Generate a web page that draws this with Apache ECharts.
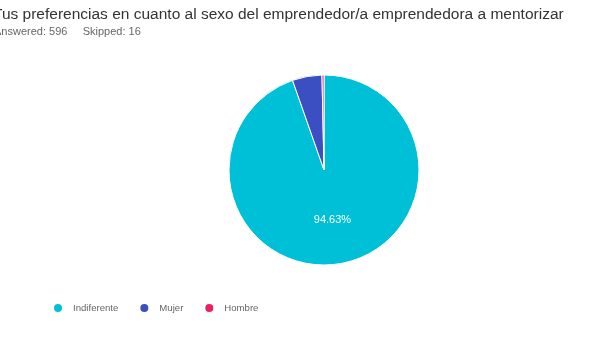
<!DOCTYPE html>
<html><head><meta charset="utf-8">
<script src="https://cdn.jsdelivr.net/npm/echarts@6/dist/echarts.min.js"></script>
<style>html,body{margin:0;padding:0;background:#fff}#c{width:590px;height:349px}</style>
</head><body><div id="c"></div>
<script>
const categories = ["Indiferente", "Mujer", "Hombre"];
const values = [94.63, 5.03, 0.34];
const colors = ["#00c0d8", "#3b4fc3", "#ed1f5e"];
const chart = echarts.init(document.getElementById('c'));
chart.setOption({
  animation: false,
  title: [{
    text: "Tus preferencias en cuanto al sexo del emprendedor/a emprendedora a mentorizar",
    left: -7, top: 7, padding: 0,
    textStyle: {fontFamily: "Liberation Sans, Arial", fontSize: 15.5, fontWeight: "normal", color: "#333"}
  }, {
    text: "Answered: 596     Skipped: 16",
    left: -6, top: 26, padding: 0,
    textStyle: {fontFamily: "Liberation Sans, Arial", fontSize: 11, fontWeight: "normal", color: "#666"}
  }],
  legend: {
    left: 47, top: 297, icon: "circle", itemWidth: 10, itemHeight: 10, itemGap: 20,
    data: categories,
    textStyle: {fontFamily: "Liberation Sans, Arial", fontSize: 9.6, color: "#666", padding: [0,0,0,5]}
  },
  series: [{
    type: "pie", center: [324, 170], radius: 95, startAngle: 90, clockwise: true,
    data: categories.map((c, i) => ({name: c, value: values[i], itemStyle: {color: colors[i]},
      label: {show: i === 0}})),
    itemStyle: {borderColor: "#fff", borderWidth: 1},
    label: {position: "inside", formatter: p => p.value.toFixed(2) + "%", color: "#fff",
      fontFamily: "Liberation Sans, Arial", fontSize: 11},
    labelLine: {show: false}
  }]
});
</script></body></html>
